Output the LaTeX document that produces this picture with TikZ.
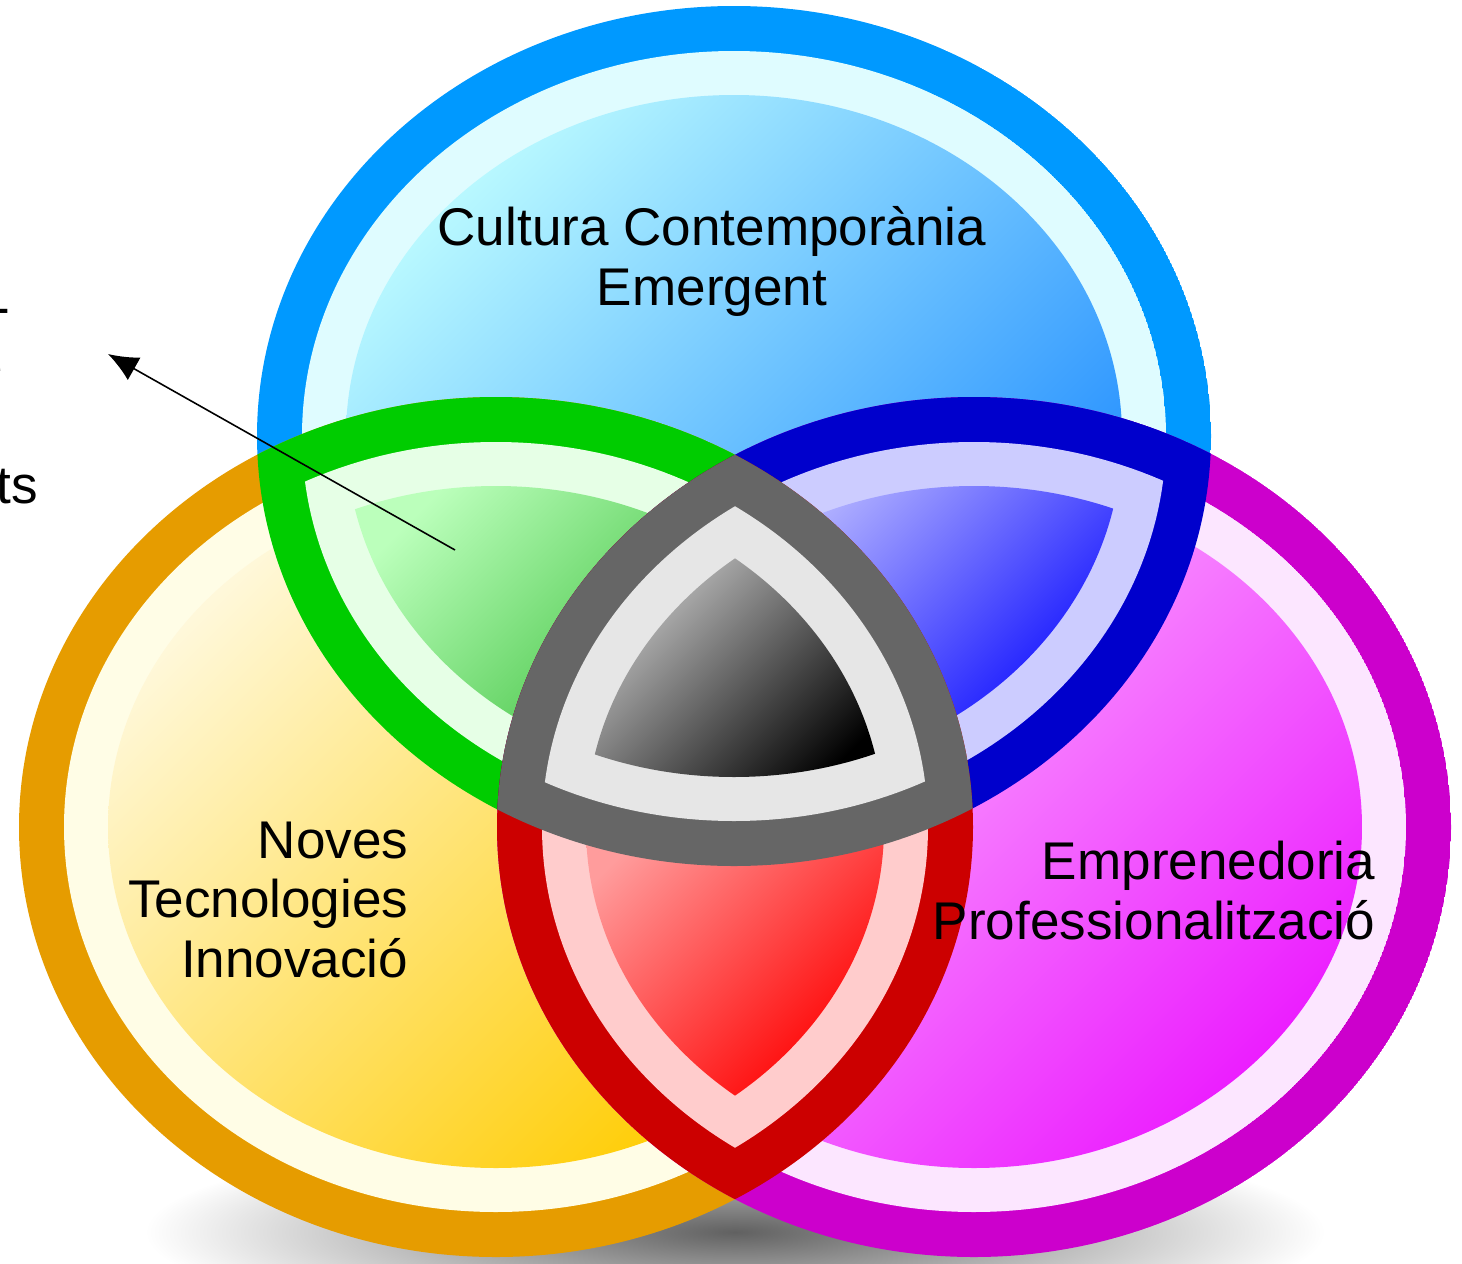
\documentclass[tikz,border=0pt]{standalone}
\usepackage{fontspec}
\setmainfont{Liberation Sans}
\usetikzlibrary{arrows.meta}

\definecolor{skyring}{HTML}{0099FF}
\definecolor{skyband}{HTML}{DFFCFF}
\definecolor{skylight}{HTML}{B8F8FF}
\definecolor{skydark}{HTML}{1A88FF}
\definecolor{goldring}{HTML}{E69C00}
\definecolor{goldband}{HTML}{FFFDE6}
\definecolor{goldlight}{HTML}{FFF8DA}
\definecolor{golddark}{HTML}{FFCC00}
\definecolor{pinkring}{HTML}{CC00CC}
\definecolor{pinkband}{HTML}{FCE6FF}
\definecolor{pinklight}{HTML}{FFCCFF}
\definecolor{pinkdark}{HTML}{EC1EFF}
\definecolor{leafring}{HTML}{00CC00}
\definecolor{leafband}{HTML}{E6FFE6}
\definecolor{leaflight}{HTML}{BBFFBB}
\definecolor{leafdark}{HTML}{2AB52A}
\definecolor{navyring}{HTML}{0000CC}
\definecolor{navyband}{HTML}{CCCCFF}
\definecolor{navylight}{HTML}{C4C4FF}
\definecolor{navydark}{HTML}{0000FF}
\definecolor{rubyring}{HTML}{CC0000}
\definecolor{rubyband}{HTML}{FFCCCC}
\definecolor{rubylight}{HTML}{FF9C9C}
\definecolor{rubydark}{HTML}{FF0000}
\definecolor{coalring}{HTML}{666666}
\definecolor{coalband}{HTML}{E6E6E6}
\definecolor{coallight}{HTML}{CDCDCD}
\definecolor{coaldark}{HTML}{000000}

\tikzset{
  label text/.style={
      font=\fontsize{15.1pt}{16.8pt}\selectfont,
      inner sep=0pt
      }
}

% the three ovals, shrunk by #1
\newcommand{\ovaltop}[1]{(734,436) ellipse [x radius=477-#1, y radius=430-#1]}
\newcommand{\ovalleft}[1]{(496,827) ellipse [x radius=477-#1, y radius=430-#1]}
\newcommand{\ovalright}[1]{(974,827) ellipse [x radius=477-#1, y radius=430-#1]}

% one cell: ring, pale band and shaded core
\newcommand{\venncell}[6]{%
  \begin{scope}\clip #1{0}; \clip #2{0}; \fill[#4ring] #3{0};\end{scope}
  \begin{scope}\clip #1{45}; \clip #2{45}; \fill[#4band] #3{45};\end{scope}
  \begin{scope}\clip #1{89}; \clip #2{89}; \clip #3{89};
    \shade[top color=#4light, bottom color=#4dark, shading angle=45] #5 rectangle #6;
  \end{scope}}

\begin{document}
\begin{tikzpicture}[x=0.1mm, y=-0.1mm]
\useasboundingbox (0,0) rectangle (1462,1263);
\path [fill=white] (0,0) rectangle (1462,1263);
\shade [inner color=black!62, outer color=white] (735,1232) ellipse [x radius=590, y radius=105];

\venncell{\ovaltop}{\ovaltop}{\ovaltop}{sky}{(346,95)}{(1122,777)}
\venncell{\ovalleft}{\ovalleft}{\ovalleft}{gold}{(108,486)}{(884,1168)}
\venncell{\ovalright}{\ovalright}{\ovalright}{pink}{(586,486)}{(1362,1168)}
\venncell{\ovaltop}{\ovalleft}{\ovalleft}{leaf}{(340,480)}{(780,780)}
\venncell{\ovaltop}{\ovalright}{\ovalright}{navy}{(690,480)}{(1125,780)}
\venncell{\ovalleft}{\ovalright}{\ovalright}{ruby}{(586,800)}{(884,1100)}
\venncell{\ovaltop}{\ovalleft}{\ovalright}{coal}{(586,540)}{(884,800)}

\node [label text, align=center, anchor=base] (cultura) at (712,305) {Cultura Contemporània\\Emergent};
\node [label text, align=right, anchor=base east] (noves) at (409,977) {Noves\\Tecnologies\\Innovació};
\node [label text, align=right, anchor=base east] (empren) at (1376,939) {Emprenedoria\\Professionalització};
\node [label text, align=right, anchor=base east] (side) at (38.6,503) {\makebox[4.5mm][l]{-}\\\makebox[6.4mm][l]{e}\\\mbox{}\\ts};

\coordinate (pointer) at (455,550);
\coordinate (pointee) at (108,354);
\draw [-{Latex[length=3mm,width=2.6mm]}, line width=0.45pt] (pointer) -- (pointee);
\end{tikzpicture}
\end{document}
